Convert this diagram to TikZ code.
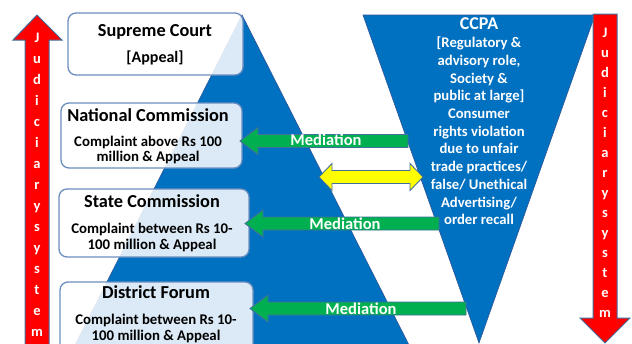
\documentclass[tikz,border=0pt]{standalone}
\usepackage{fontspec}
\setmainfont{Carlito}
\definecolor{triblue}{RGB}{0,112,192}
\definecolor{edgeblue}{RGB}{47,85,151}
\definecolor{arrline}{RGB}{65,113,156}
\definecolor{boxline}{RGB}{108,142,191}
\definecolor{gfill}{RGB}{0,176,80}
\definecolor{rfill}{RGB}{255,0,0}
\definecolor{yfill}{RGB}{255,255,0}
\tikzset{
  tri/.style={fill=triblue, draw=edgeblue, line width=0.6pt},
  courtbox/.style={draw=boxline, line width=1.3pt, rounded corners=8pt, fill=white, fill opacity=0.86, inner sep=0pt},
  title/.style={font=\bfseries\fontsize{18.3}{20}\selectfont, anchor=base, inner sep=0pt, text=black},
  small/.style={font=\bfseries\fontsize{14.8}{16}\selectfont, anchor=base, inner sep=0pt, text=black},
  ccpa/.style={font=\bfseries\fontsize{14.7}{16}\selectfont, anchor=base, inner sep=0pt, text=white},
  medtext/.style={font=\bfseries\fontsize{16.5}{18}\selectfont, text=white, inner sep=0pt},
  letter/.style={font=\bfseries\fontsize{14.5}{15}\selectfont, text=white, anchor=base, inner sep=0pt},
  redarr/.style={fill=rfill, draw=arrline, line width=1pt, line join=miter},
  greenarr/.style={fill=gfill, draw=arrline, line width=0.9pt},
  yellowarr/.style={fill=yfill, draw=arrline, line width=0.9pt},
}
\begin{document}
\begin{tikzpicture}[x=1pt, y=-1pt]
\useasboundingbox (0,0) rectangle (632,343);
\clip (0,0) rectangle (632,343);
\fill[white] (0,0) rectangle (632,343);
% pyramid and inverted triangle
\draw[tri] (242,15) -- (409,345) -- (75,345) -- cycle;
\draw[tri] (363,15) -- (595,15) -- (479,343) -- cycle;
% court boxes
\node[courtbox, minimum width=175pt, minimum height=62pt] (sc) at (155.5,44) {};
\node[courtbox, minimum width=181pt, minimum height=65pt] (nc) at (151.5,135.5) {};
\node[courtbox, minimum width=190pt, minimum height=68pt] (stc) at (154,223) {};
\node[courtbox, minimum width=193pt, minimum height=75pt] (df) at (156.5,319.5) {};
% box texts
\node[title] (sct) at (155,36.5) {Supreme Court};
\node[small, font=\bfseries\fontsize{16}{18}\selectfont] (sca) at (155,62) {[Appeal]};
\node[title] (nct) at (148,121.7) {National Commission};
\node[small] (nc1) at (148,146.7) {Complaint above Rs 100};
\node[small] (nc2) at (148,161.7) {million \& Appeal};
\node[title] (stt) at (152,207.3) {State Commission};
\node[small] (st1) at (152,233.3) {Complaint between Rs 10-};
\node[small] (st2) at (152,249) {100 million \& Appeal};
\node[title] (dft) at (156,298.3) {District Forum};
\node[small] (df1) at (156,324) {Complaint between Rs 10-};
\node[small] (df2) at (156,340) {100 million \& Appeal};
% CCPA text
\node[ccpa, font=\bfseries\fontsize{18}{20}\selectfont] (cc0) at (479,29) {CCPA};
\foreach \t [count=\i from 0] in {{[Regulatory \&}, {advisory role,}, {Society \&}, {public at large]}, {Consumer}, {rights violation}, {due to unfair}, {trade practices/}, {false/ Unethical}, {Advertising/}, {order recall}}
  \node[ccpa] (cc\i) at (479,47.7+17.7*\i) {\t};
% green mediation arrows
\draw[greenarr] (240,141) -- (258,127.5) -- (258,134.5) -- (408,134.5) -- (408,147.5) -- (258,147.5) -- (258,154.5) -- cycle;
\node[medtext] (m1) at (326,139.5) {Mediation};
\draw[greenarr] (245,223.5) -- (263,210) -- (263,217) -- (439,217) -- (439,230) -- (263,230) -- (263,237) -- cycle;
\node[medtext] (m2) at (345,223.5) {Mediation};
\draw[greenarr] (250,308.5) -- (268,295) -- (268,302) -- (466,302) -- (466,315) -- (268,315) -- (268,322) -- cycle;
\node[medtext] (m3) at (361,308.5) {Mediation};
% yellow double arrow
\draw[yellowarr] (319,177) -- (332,163.5) -- (332,170.5) -- (410,170.5) -- (410,163.5) -- (423,177) -- (410,190.5) -- (410,183.5) -- (332,183.5) -- (332,190.5) -- cycle;
% left red arrow (up)
\draw[redarr] (37,15) -- (62,40) -- (49,40) -- (49,350) -- (25,350) -- (25,40) -- (13,40) -- cycle;
\foreach \l [count=\i from 0] in {J,u,d,i,c,i,a,r,y,s,y,s,t,e,m}
  \node[letter] (la\i) at (37,42+21.07*\i) {\l};
% right red arrow (down)
\draw[redarr] (593,14) -- (617,14) -- (617,318) -- (630,318) -- (605,343) -- (580,318) -- (593,318) -- cycle;
\foreach \l [count=\i from 0] in {J,u,d,i,c,i,a,r,y,s,y,s,t,e,m}
  \node[letter] (ra\i) at (605,37+20.07*\i) {\l};
\end{tikzpicture}
\end{document}
